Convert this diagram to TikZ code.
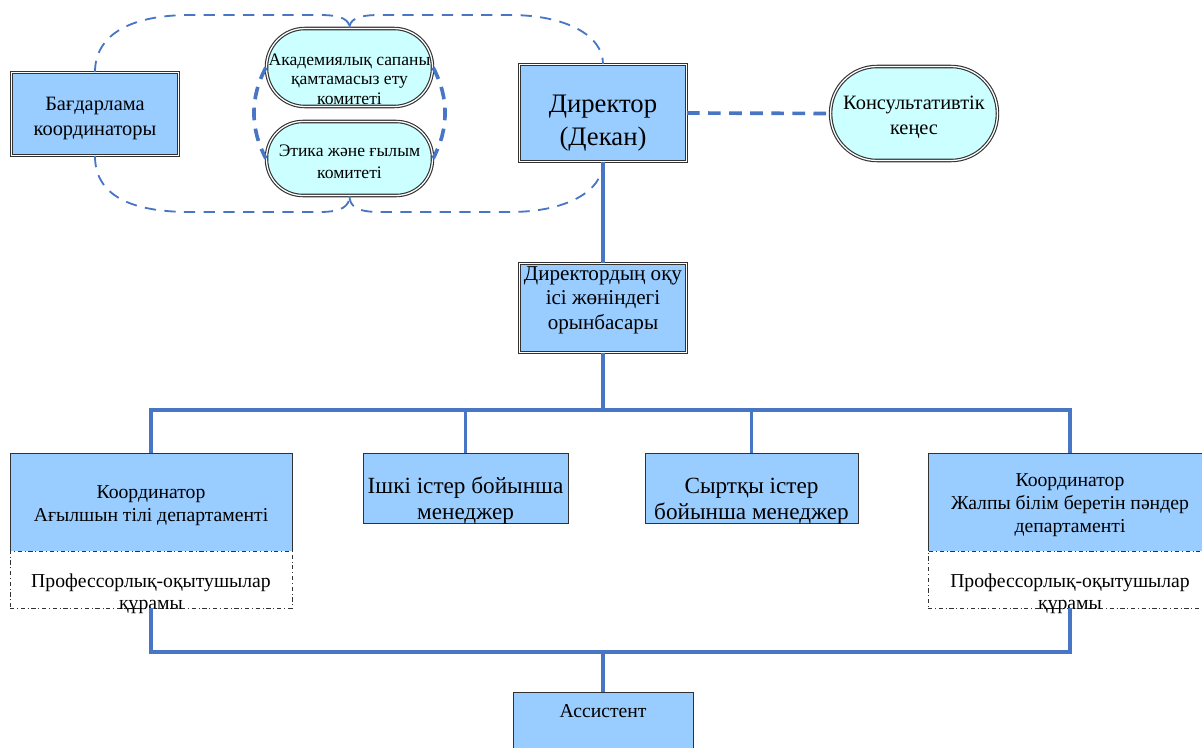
\documentclass[tikz,border=0pt]{standalone}
\usepackage{fontspec}
\setmainfont{Liberation Serif}
\usetikzlibrary{shapes.misc,positioning}
\definecolor{linkblue}{RGB}{72,117,196}
\definecolor{boxblue}{RGB}{153,204,255}
\definecolor{boxcyan}{RGB}{204,255,255}
\definecolor{boxline}{RGB}{50,50,50}
\newcommand{\lowertext}[1]{\rule{0pt}{#1}}
\newcommand{\raisetext}[1]{\rule[-#1]{0pt}{#1}}
\tikzstyle{orgbox}=[draw=boxline,fill=boxblue,line width=0.7pt,align=center,inner xsep=1pt,inner ysep=-10pt]
\tikzstyle{headbox}=[orgbox,line width=0.8pt,double=white,double distance=0.9pt]
\tikzstyle{committee}=[draw=boxline,fill=boxcyan,line width=0.8pt,double=white,double distance=0.9pt,align=center,inner xsep=0pt,inner ysep=-10pt]
\tikzstyle{staffframe}=[draw=boxline,line width=0.6pt,dash dot,fill=white]
\tikzstyle{stafftext}=[align=center,inner sep=0pt,font=\fontsize{14}{16}\selectfont]
\tikzstyle{orgline}=[draw=linkblue,line width=2.2pt]
\tikzstyle{loopline}=[draw=linkblue,line width=1.3pt,dash pattern=on 8pt off 6pt]
\tikzstyle{linkdash}=[draw=linkblue,line width=2.6pt,dash pattern=on 9pt off 6pt]

\begin{document}
\begin{tikzpicture}
\useasboundingbox (0cm,0cm) rectangle (30.05cm,-18.675cm);
\clip (0cm,0cm) rectangle (30.05cm,-18.675cm);

\node[headbox,minimum width=4.17cm,minimum height=2.07cm,font=\fontsize{14.5}{17.5}\selectfont]
 (PROGRAM) at (2.375cm,-2.85cm) {\lowertext{15.5pt}Бағдарлама\\координаторы};
\node[committee,rounded corners=0.96cm,minimum width=4.15cm,minimum height=1.95cm,font=\fontsize{12.5}{13.8}\selectfont]
 (COMMITTEE1) at (8.7375cm,-1.6875cm) {\lowertext{25pt}Академиялық сапаны\\қамтамасыз ету\\комитеті};
\node[committee,rounded corners=0.91cm,minimum width=4.15cm,minimum height=1.85cm,font=\fontsize{12.5}{15.5}\selectfont]
 (COMMITTEE2) at (8.7375cm,-3.9625cm) {\lowertext{12.5pt}Этика және ғылым\\комитеті};
\node[headbox,minimum width=4.17cm,minimum height=2.42cm,font=\fontsize{19}{23.5}\selectfont]
 (DIRECTOR) at (15.075cm,-2.825cm) {\lowertext{26.5pt}Директор\\(Декан)};
\node[committee,rounded corners=1.16cm,minimum width=4.17cm,minimum height=2.35cm,font=\fontsize{14.5}{17.8}\selectfont]
 (COUNCIL) at (22.85cm,-2.8375cm) {\lowertext{15.3pt}Консультативтік\\кеңес};
\node[headbox,minimum width=4.17cm,minimum height=2.22cm,font=\fontsize{15}{17.5}\selectfont]
 (DEPUTY) at (15.075cm,-7.7cm) {Директордың оқу\\ісі жөніндегі\\орынбасары\raisetext{14.5pt}};

\node[orgbox,minimum width=7.05cm,minimum height=2.45cm,font=\fontsize{14}{16.5}\selectfont]
 (COORD1) at (3.775cm,-12.55cm) {\lowertext{14.9pt}Координатор\\Ағылшын тілі департаменті};
\node[orgbox,minimum width=5.125cm,minimum height=1.75cm,font=\fontsize{16.5}{19}\selectfont]
 (MANAGER1) at (11.6375cm,-12.2cm) {\lowertext{30pt}Ішкі істер бойынша\\менеджер};
\node[orgbox,minimum width=5.325cm,minimum height=1.75cm,font=\fontsize{16.5}{19}\selectfont]
 (MANAGER2) at (18.7875cm,-12.2cm) {\lowertext{30pt}Сыртқы істер\\бойынша менеджер};
\node[orgbox,minimum width=7.1cm,minimum height=2.45cm,font=\fontsize{14}{16.5}\selectfont]
 (COORD2) at (26.75cm,-12.55cm) {\lowertext{13.5pt}Координатор\\Жалпы білім беретін пәндер\\департаменті};

\node[staffframe,minimum width=7.05cm,minimum height=1.425cm] (STAFF1) at (3.775cm,-14.4875cm) {};
\node[stafftext] (STAFF1T) at ([yshift=-0.36cm]STAFF1.center) {Профессорлық-оқытушылар\\құрамы};
\node[staffframe,minimum width=7.1cm,minimum height=1.425cm] (STAFF2) at (26.75cm,-14.4875cm) {};
\node[stafftext] (STAFF2T) at ([yshift=-0.36cm]STAFF2.center) {Профессорлық-оқытушылар\\құрамы};

\node[orgbox,minimum width=4.5cm,minimum height=2.5cm,anchor=north] (ASSISTANT) at (15.075cm,-17.3cm) {};
\node[stafftext] (ASSISTANTT) at ([yshift=-0.475cm]ASSISTANT.north) {Ассистент};

\coordinate (BUSTOP) at (15.075cm,-10.25cm);
\coordinate (BUSBOTTOM) at (15.075cm,-16.3cm);

\draw[loopline] (PROGRAM.north) .. controls (2.375cm,-0.875cm) and (3.25cm,-0.375cm) .. (4.75cm,-0.375cm)
 -- (8.0cm,-0.375cm) .. controls (8.55cm,-0.375cm) and (8.7375cm,-0.5cm) .. (COMMITTEE1.north);
\draw[loopline] (COMMITTEE1.north) .. controls (8.7375cm,-0.5cm) and (8.925cm,-0.375cm) .. (9.475cm,-0.375cm)
 -- (12.75cm,-0.375cm) .. controls (14.125cm,-0.375cm) and (15.075cm,-0.875cm) .. (DIRECTOR.north);
\draw[loopline] (PROGRAM.south) .. controls (2.375cm,-4.875cm) and (3.25cm,-5.3cm) .. (4.75cm,-5.3cm)
 -- (8.0cm,-5.3cm) .. controls (8.55cm,-5.3cm) and (8.7375cm,-5.15cm) .. (COMMITTEE2.south);
\draw[loopline] (COMMITTEE2.south) .. controls (8.7375cm,-5.15cm) and (8.925cm,-5.3cm) .. (9.475cm,-5.3cm)
 -- (12.75cm,-5.3cm) .. controls (14.125cm,-5.3cm) and (15.075cm,-4.8cm) .. (DIRECTOR.south);

\draw[linkdash] (COMMITTEE1.west) .. controls +(-0.4cm,-0.75cm) and +(-0.4cm,0.75cm) .. (COMMITTEE2.west);
\draw[linkdash] (COMMITTEE1.east) .. controls +(0.4cm,-0.75cm) and +(0.4cm,0.75cm) .. (COMMITTEE2.east);
\draw[linkdash] (DIRECTOR.east) -- (COUNCIL.west);

\draw[orgline] (DIRECTOR.south) -- (DEPUTY.north);
\draw[orgline] (DEPUTY.south) -- (BUSTOP);
\draw[orgline] (COORD1.north) -- (COORD1.north |- BUSTOP) -- (COORD2.north |- BUSTOP) -- (COORD2.north);
\draw[orgline] (MANAGER1.north) -- (MANAGER1.north |- BUSTOP);
\draw[orgline] (MANAGER2.north) -- (MANAGER2.north |- BUSTOP);
\draw[orgline] (STAFF1.south) -- (STAFF1.south |- BUSBOTTOM) -- (STAFF2.south |- BUSBOTTOM) -- (STAFF2.south);
\draw[orgline] (BUSBOTTOM) -- (ASSISTANT.north);

\end{tikzpicture}
\end{document}
